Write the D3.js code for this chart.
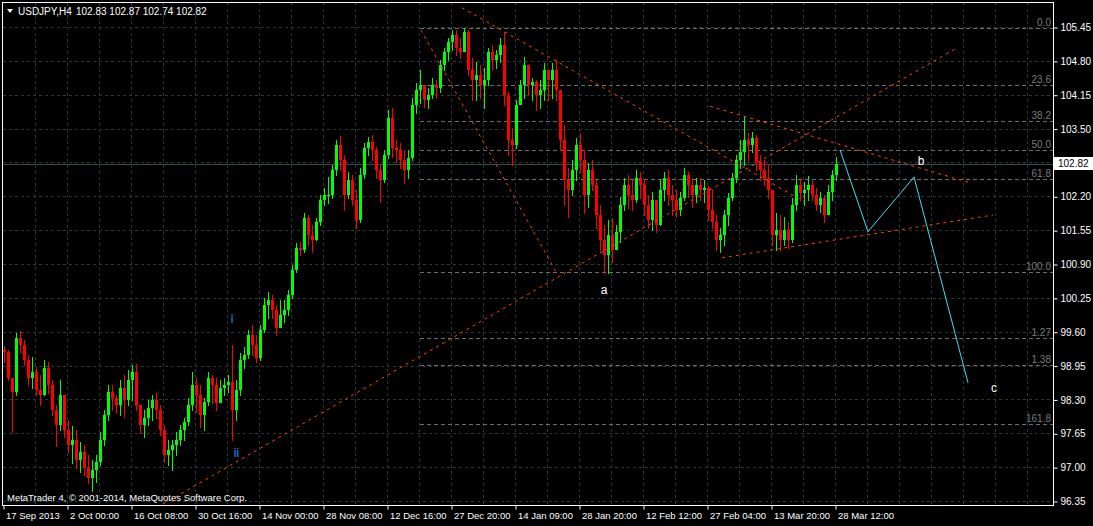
<!DOCTYPE html>
<html><head><meta charset="utf-8">
<script src="https://cdn.jsdelivr.net/npm/d3@7"></script>
<style>
html,body{margin:0;padding:0;background:#000;overflow:hidden}
svg{display:block}
text{font-family:"Liberation Sans",Arial,sans-serif}
</style></head>
<body>
<svg id="c" width="1093" height="526"></svg>
<script>
// ---- data (USDJPY H4, each candle aggregates 4 H4 bars) ----
const firstOpen = 99.25;
const highs = [
99.33,99.25,98.58,99.58,99.61,99.44,99.15,99.12,98.92,98.77,
99.06,99.02,98.67,98.19,98.67,98.29,97.91,97.79,97.71,97.48,
97.43,97.23,97.14,97.23,97.68,98.10,98.58,98.58,98.39,98.67,
98.77,98.87,98.96,98.98,98.19,98.10,98.29,98.39,98.42,98.19,
97.81,97.52,97.52,97.68,97.81,97.94,98.33,98.83,98.71,98.58,
98.33,98.83,98.77,98.71,98.67,98.71,98.77,99.35,98.67,99.19,
99.31,99.63,99.73,99.54,99.73,100.25,100.36,100.31,100.11,100.21,
100.21,100.40,100.88,101.30,101.32,101.88,101.84,101.65,101.78,102.23,
102.36,102.57,102.80,103.28,103.36,102.99,102.67,102.61,102.32,102.74,
103.22,103.34,103.38,103.15,102.80,103.09,103.86,103.90,103.28,103.22,
103.09,103.09,104.09,104.38,104.63,104.34,104.28,104.47,104.43,104.82,
105.05,105.24,105.39,105.39,105.24,105.43,105.39,104.86,104.78,104.72,
104.66,105.05,105.11,105.01,105.24,105.36,104.20,103.51,104.05,104.43,
104.88,104.63,104.47,104.43,104.43,104.76,104.63,104.76,104.82,104.24,
103.57,102.74,102.90,103.32,103.42,103.09,102.84,102.90,102.51,102.03,
101.65,101.75,101.78,101.65,102.19,102.55,102.61,102.51,102.71,102.67,
102.51,102.23,102.28,102.13,102.51,102.67,102.71,102.42,102.32,102.28,
102.74,102.67,102.55,102.55,102.55,102.51,102.40,102.32,101.84,101.59,
101.94,102.26,102.65,102.99,103.28,103.72,103.42,103.44,103.38,102.99,
102.90,102.80,102.32,101.88,101.84,101.80,101.71,102.17,102.61,102.55,
102.48,102.59,102.51,102.36,102.28,102.23,102.42,102.71,102.95];
const lows = [
99.02,98.67,97.68,98.39,99.21,98.96,98.58,98.52,98.39,98.19,
98.39,98.42,98.00,97.41,97.71,97.58,97.29,97.08,96.98,96.91,
96.85,96.70,96.54,96.72,97.04,97.43,97.91,98.10,98.04,98.00,
97.96,98.19,98.29,98.10,97.66,97.58,97.81,97.91,97.94,97.62,
97.10,97.04,96.95,97.23,97.43,97.52,97.81,98.10,98.06,97.77,
97.71,98.19,98.23,98.10,98.25,98.39,98.44,97.52,97.91,98.39,
98.90,99.10,99.15,99.02,99.06,99.60,99.86,99.86,99.54,99.73,
99.79,99.92,100.25,100.75,101.07,101.13,101.27,101.13,101.36,101.65,
102.03,102.07,102.17,102.61,102.71,101.94,102.17,102.03,101.59,101.71,
102.55,102.99,102.90,102.55,102.09,102.48,102.94,102.96,102.86,102.74,
102.46,102.55,102.90,103.80,103.99,103.92,103.90,104.09,104.09,104.20,
104.63,104.82,105.01,104.91,104.86,105.01,104.53,104.05,104.05,104.09,
103.90,104.34,104.63,104.66,104.78,103.95,102.99,102.80,103.13,104.01,
104.09,104.15,104.05,103.86,103.90,104.05,104.05,104.09,104.05,103.09,
102.03,101.80,102.23,102.51,102.67,101.88,101.99,102.32,101.59,101.17,
100.73,100.73,100.94,101.21,101.32,101.94,101.98,101.94,102.09,102.17,
101.84,101.59,101.55,101.52,101.65,102.13,102.03,101.84,101.80,101.84,
102.13,102.19,101.99,102.09,102.13,102.09,101.75,101.59,101.17,101.13,
101.27,101.65,102.13,102.48,102.74,102.80,102.90,103.05,102.71,102.51,
102.42,102.17,101.27,101.17,101.17,101.27,101.21,101.32,101.94,102.13,
102.03,102.13,102.13,101.94,101.90,101.71,101.90,102.13,102.51];
const closes = [
99.21,98.71,98.44,99.48,99.35,99.06,98.71,98.83,98.48,98.39,
98.90,98.58,98.10,97.81,98.39,97.71,97.43,97.52,97.14,97.29,
96.98,96.79,96.95,97.10,97.52,98.00,98.44,98.33,98.19,98.52,
98.29,98.67,98.83,98.19,97.81,97.94,98.14,98.29,98.10,97.71,
97.23,97.33,97.43,97.52,97.71,97.87,98.19,98.58,98.39,98.00,
98.25,98.71,98.58,98.23,98.52,98.58,98.64,98.10,98.48,99.06,
99.15,99.54,99.35,99.10,99.63,100.11,100.21,100.02,99.67,99.92,
100.02,100.31,100.79,101.21,101.17,101.78,101.46,101.36,101.71,102.13,
102.23,102.23,102.71,103.19,102.90,102.23,102.51,102.13,101.75,102.61,
103.13,103.24,103.09,102.71,102.51,102.99,103.70,103.13,103.09,102.90,
102.71,102.94,103.95,104.24,104.34,104.05,104.15,104.34,104.28,104.72,
104.97,105.16,105.30,105.05,104.97,105.36,104.63,104.43,104.53,104.34,
104.43,104.97,104.82,104.91,105.11,104.15,103.28,103.19,103.95,104.34,
104.72,104.34,104.40,104.15,104.24,104.63,104.43,104.63,104.24,103.28,
102.51,102.32,102.71,103.19,102.90,102.23,102.71,102.42,101.84,101.36,
101.07,101.46,101.17,101.52,102.03,102.42,102.23,102.13,102.55,102.42,
102.03,101.75,102.13,101.65,102.32,102.55,102.23,102.13,101.94,102.17,
102.61,102.42,102.23,102.42,102.32,102.36,101.94,101.71,101.36,101.46,
101.84,102.17,102.55,102.90,103.05,103.28,103.19,103.32,102.86,102.71,
102.55,102.32,101.46,101.55,101.36,101.55,101.36,102.03,102.42,102.26,
102.32,102.42,102.23,102.03,102.17,101.84,102.28,102.61,102.82];
const barsPerCandle = 4;

const priceTicks = [96.35,97.00,97.65,98.30,98.95,99.60,100.25,100.90,101.55,102.20,102.85,103.50,104.15,104.80,105.45];
const dateTickBars = [0,64,128,192,256,320,384,448,512,576,640,704,768,832];
const dateTickLabels = ["17 Sep 2013","2 Oct 00:00","16 Oct 08:00","30 Oct 16:00","14 Nov 00:00","28 Nov 08:00","12 Dec 16:00","27 Dec 20:00","14 Jan 09:00","28 Jan 20:00","12 Feb 12:00","27 Feb 04:00","13 Mar 20:00","28 Mar 12:00"];
const gridBars = d3.range(32, 1025, 32);

const fibHigh = 105.44, fibLow = 100.74, fibStartBar = 417;
const fibLevels = [0, 23.6, 38.2, 50, 61.8, 100, 127, 138, 161.8];
const fibLabels = ["0.0","23.6","38.2","50.0","61.8","100.0","1.27","1.38","161.8"];

const trendLines = [
  [[160, 96.29], [954, 105.05]],
  [[418, 105.39], [553, 100.75]],
  [[459, 105.82], [802, 102.09]],
  [[707, 103.93], [967, 102.46]],
  [[719, 101.02], [990, 101.84]]
];
const projection = [[837, 103.09], [865, 101.52], [911, 102.57], [965, 98.62]];
const waveLabels = [
  {t:"a", bar:601, price:100.33, color:"#ffffff"},
  {t:"b", bar:918, price:102.80, color:"#ffffff"},
  {t:"c", bar:991, price:98.44, color:"#ffffff"},
  {t:"i", bar:229, price:99.77, color:"#1e90ff"},
  {t:"ii", bar:233.5, price:97.20, color:"#1e90ff"}
];
const bidPrice = 102.82;
const headerSymbol = "USDJPY,H4";
const headerOHLC = "102.83 102.87 102.74 102.82";
const copyright = "MetaTrader 4, \u00a9 2001-2014, MetaQuotes Software Corp.";

// ---- drawing ----
const svg = d3.select("#c");
const L = 2.5, R = 1053.5, T = 2.5, B = 505.5;
const x = d3.scaleLinear().domain([0, 1050]).range([3, 1053]);
const y = d3.scaleLinear().domain([96.35, 105.45]).range([501, 27]);
const px = v => Math.round(v) + 0.5;

svg.append("rect").attr("width",1093).attr("height",526).attr("fill","#000");

const plot = svg.append("g");
svg.append("clipPath").attr("id","clip").append("rect")
  .attr("x",3).attr("y",3).attr("width",1050).attr("height",502);

// grid
const grid = plot.append("g").attr("stroke","#263838").attr("stroke-dasharray","3,3")
  .attr("shape-rendering","crispEdges");
grid.selectAll("line.v").data(gridBars).join("line")
  .attr("x1",d=>px(x(d))).attr("x2",d=>px(x(d))).attr("y1",3).attr("y2",505);
grid.selectAll("line.h").data(priceTicks).join("line")
  .attr("y1",d=>px(y(d))).attr("y2",d=>px(y(d))).attr("x1",3).attr("x2",1053);

// fib levels
const fibG = plot.append("g");
const fibPrice = l => fibHigh - (fibHigh - fibLow) * l / 100;
fibG.selectAll("line").data(fibLevels).join("line")
  .attr("x1",x(fibStartBar)).attr("x2",1053)
  .attr("y1",d=>px(y(fibPrice(d)))).attr("y2",d=>px(y(fibPrice(d))))
  .attr("stroke","#6f6f6f").attr("stroke-dasharray","4,3").attr("shape-rendering","crispEdges");
fibG.selectAll("text").data(fibLevels).join("text")
  .attr("x",1051).attr("y",d=>Math.round(y(fibPrice(d)))-2)
  .attr("text-anchor","end").attr("fill","#7a7a7a").attr("font-size","10px")
  .text((d,i)=>fibLabels[i]);

// bid line
plot.append("line").attr("x1",3).attr("x2",1053)
  .attr("y1",px(y(bidPrice))).attr("y2",px(y(bidPrice)))
  .attr("stroke","#2f4f4f").attr("shape-rendering","crispEdges");

// candles
const candles = closes.map((c,i)=>({
  i, o: i===0 ? firstOpen : closes[i-1], h: highs[i], l: lows[i], c
}));
const cg = plot.append("g").attr("clip-path","url(#clip)").attr("shape-rendering","crispEdges");
cg.selectAll("line").data(candles).join("line")
  .attr("x1",d=>x(d.i*barsPerCandle)+1.5).attr("x2",d=>x(d.i*barsPerCandle)+1.5)
  .attr("y1",d=>Math.round(y(d.h))).attr("y2",d=>Math.round(y(d.l))+1)
  .attr("stroke",d=>d.c>=d.o?"#00ff00":"#ff0000");
cg.selectAll("rect").data(candles).join("rect")
  .attr("x",d=>x(d.i*barsPerCandle))
  .attr("width",3)
  .attr("y",d=>Math.round(y(Math.max(d.o,d.c))))
  .attr("height",d=>Math.max(1, Math.round(y(Math.min(d.o,d.c))) - Math.round(y(Math.max(d.o,d.c)))))
  .attr("fill",d=>d.c>=d.o?"#00ff00":"#ff0000");

// trend lines
const tl = plot.append("g").attr("clip-path","url(#clip)");
tl.selectAll("line").data(trendLines).join("line")
  .attr("x1",d=>x(d[0][0])).attr("y1",d=>y(d[0][1]))
  .attr("x2",d=>x(d[1][0])).attr("y2",d=>y(d[1][1]))
  .attr("stroke","#ff4500").attr("stroke-width",1).attr("stroke-dasharray","3,4");

// projection
plot.append("path").datum(projection)
  .attr("d", d3.line().x(d=>x(d[0])).y(d=>y(d[1])))
  .attr("fill","none").attr("stroke","#40e0f0").attr("stroke-width",1);

// wave labels
plot.selectAll("text.w").data(waveLabels).join("text")
  .attr("x",d=>x(d.bar)).attr("y",d=>y(d.price))
  .attr("text-anchor","middle").attr("fill",d=>d.color).attr("font-size","12px")
  .text(d=>d.t);

// border
svg.append("rect").attr("x",L).attr("y",T).attr("width",R-L).attr("height",B-T)
  .attr("fill","none").attr("stroke","#ffffff").attr("shape-rendering","crispEdges");

// price axis (the 102.85 label sits under the bid box, as in MT4)
const yAxis = d3.axisRight(y).tickValues(priceTicks).tickSize(4).tickPadding(3)
  .tickFormat(d => Math.abs(d - bidPrice) < 0.2 ? "" : d3.format(".2f")(d));
const ya = svg.append("g").attr("transform","translate(1053.5,0.5)").call(yAxis);
ya.select(".domain").remove();
ya.selectAll("line").attr("stroke","#fff");
ya.selectAll("text").attr("fill","#fff").attr("font-size","10px")
  .attr("font-family","'Liberation Sans',Arial,sans-serif");
ya.selectAll("text").filter(function(){ return this.textContent === ""; }).remove();

// bid box
svg.append("rect").attr("x",1054).attr("y",Math.round(y(bidPrice))-7).attr("width",39).attr("height",13)
  .attr("fill","#fff");
svg.append("text").attr("x",1058).attr("y",y(bidPrice)).attr("dy","0.35em")
  .attr("fill","#000").attr("font-size","10px").text(d3.format(".2f")(bidPrice));

// date axis
const xAxis = d3.axisBottom(x).tickValues(dateTickBars).tickSize(4).tickPadding(3)
  .tickFormat((d,i)=>dateTickLabels[i]);
const xa = svg.append("g").attr("transform","translate(0.5,505.5)").call(xAxis);
xa.select(".domain").remove();
xa.selectAll("line").attr("stroke","#fff");
xa.selectAll("text").attr("fill","#fff").attr("font-size","9.5px").attr("text-anchor","start")
  .attr("dx",2).attr("font-family","'Liberation Sans',Arial,sans-serif");

// header
svg.append("path").attr("d","M7,9 L13,9 L10,13 Z").attr("fill","#fff");
svg.append("text").attr("x",18).attr("y",15).attr("fill","#fff").attr("font-size","10px").text(headerSymbol);
svg.append("text").attr("x",76).attr("y",15).attr("fill","#fff").attr("font-size","10px").text(headerOHLC);
svg.append("text").attr("x",7).attr("y",501).attr("fill","#fff").attr("font-size","9.5px").text(copyright);
</script>
</body></html>
